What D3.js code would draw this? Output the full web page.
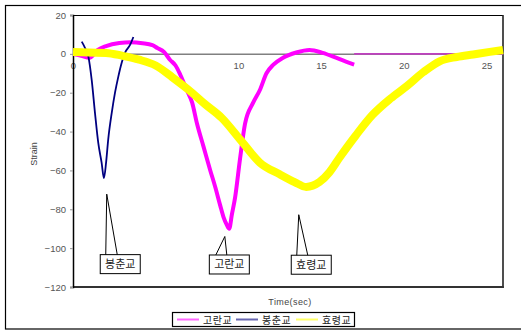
<!DOCTYPE html>
<html>
<head>
<meta charset="utf-8">
<script src="https://cdn.jsdelivr.net/npm/d3@7"></script>
<style>
  body { margin: 0; background: #fff; }
  svg { display: block; }
  text { font-family: "Liberation Sans", Arial, sans-serif; }
  .kr { font-family: "Noto Sans CJK KR", sans-serif; }
</style>
</head>
<body>
<div id="chart"></div>
<script>
// series names (legend order = drawing order)
const seriesNames = ['고란교', '봉춘교', '효령교'];

// 고란교 : time (sec), strain
const goranTime   = [0, 0.5, 1.0, 1.5, 2.0, 2.8, 3.5, 4.2, 4.8, 5.1, 5.5, 5.86, 6.2, 6.5, 6.9, 7.2, 7.5, 7.9, 8.3, 8.6, 8.9, 9.1, 9.3, 9.45, 9.6, 9.8, 10.1, 10.4, 10.9, 11.3, 11.7, 12.1, 12.7, 13.5, 14.3, 15.1, 15.9, 16.5, 17.0];
const goranStrain = [0, -1, -2, 2, 4, 5.6, 6, 5.5, 4.5, 3, 1, -3, -6, -11, -19, -25, -36, -48, -60, -68.5, -78, -84, -88, -90, -83, -74, -54, -36, -25, -18.6, -10, -5.7, -2, 0.7, 2, 0.5, -2, -4, -5.5];
// 고란교 tail (recorded as flat zero after the event)
const goranTailTime   = [17.0, 26];
const goranTailStrain = [0, 0];

// 봉춘교
const bongTime   = [0.53, 0.73, 0.93, 1.13, 1.33, 1.53, 1.73, 1.87, 2.0, 2.13, 2.34, 2.54, 2.74, 2.94, 3.14, 3.45, 3.65];
const bongStrain = [6.3, 3, -1.4, -13.4, -30.5, -46, -56, -64, -56, -44, -30.5, -20, -11.7, -4.7, 0.5, 4.6, 8.7];

// 효령교
const hyoTime   = [0, 1, 2, 3, 4, 5, 6, 7, 8, 9, 10.1, 11.3, 12.5, 13.4, 14.1, 14.9, 15.5, 16.1, 17.1, 18.1, 19.2, 20.2, 21.2, 22.2, 23.2, 24.2, 25.2, 26];
const hyoStrain = [1, 0.7, 0.5, -1, -3, -6, -12, -18.6, -26, -33, -44, -56, -62, -66, -68.5, -66, -61, -53.6, -42, -31.5, -23, -16.5, -9.3, -3.7, -1.6, -0.3, 1, 2];

const xTicks = [0, 5, 10, 15, 20, 25];
const yTicks = [20, 0, -20, -40, -60, -80, -100, -120];

// callouts: label, apex (time, strain)
const calloutLabels = ['봉춘교', '고란교', '효령교'];
const calloutTime   = [2.04, 9.18, 13.65];
const calloutStrain = [-72.2, -94, -82.8];

const W = 521, H = 330;
const plot = { left: 73, right: 503, top: 15, bottom: 287 };

const svg = d3.select('#chart').append('svg')
  .attr('width', W).attr('height', H);

// outer chart frame
svg.append('rect')
  .attr('x', 5.5).attr('y', 5.5)
  .attr('width', W + 10).attr('height', 323.5)
  .attr('fill', '#fff').attr('stroke', '#000').attr('stroke-width', 1.2);

const x = d3.scaleLinear().domain([0, 26]).range([plot.left, plot.right]);
const y = d3.scaleLinear().domain([-120, 20]).range([plot.bottom, plot.top]);

// plot area border
svg.append('line').attr('x1', plot.left).attr('x2', plot.right).attr('y1', plot.top + 0.5).attr('y2', plot.top + 0.5)
  .attr('stroke', '#000').attr('stroke-width', 1);
svg.append('line').attr('x1', plot.right).attr('x2', plot.right).attr('y1', plot.top).attr('y2', plot.bottom + 1)
  .attr('stroke', '#222').attr('stroke-width', 1.6);
svg.append('line').attr('x1', plot.left).attr('x2', plot.right + 0.8).attr('y1', plot.bottom).attr('y2', plot.bottom)
  .attr('stroke', '#333').attr('stroke-width', 2);

// zero line (x axis)
const xAxis = svg.append('g')
  .attr('transform', 'translate(0,' + y(0) + ')')
  .call(d3.axisBottom(x).tickValues(xTicks).tickSize(0).tickPadding(8));
xAxis.select('.domain').attr('stroke', '#808080').attr('stroke-width', 1.5);
xAxis.selectAll('text').attr('font-size', 9.5).attr('fill', '#555')
  .attr('font-family', '"Liberation Sans", Arial, sans-serif');

// y axis
const yAxis = svg.append('g')
  .attr('transform', 'translate(' + plot.left + ',0)')
  .call(d3.axisLeft(y).tickValues(yTicks).tickSize(3).tickPadding(4).tickFormat(d => d < 0 ? '\u2212' + Math.abs(d) : d));
yAxis.select('.domain').attr('stroke', '#000').attr('stroke-width', 1.5);
yAxis.selectAll('.tick line').attr('stroke', '#999');
yAxis.selectAll('text').attr('font-size', 9.5).attr('fill', '#555')
  .attr('font-family', '"Liberation Sans", Arial, sans-serif');

svg.append('text')
  .attr('transform', 'translate(37,' + ((plot.top + plot.bottom) / 2 + 3) + ') rotate(-90)')
  .attr('text-anchor', 'middle')
  .attr('font-size', 9).attr('fill', '#444')
  .text('Strain');

svg.append('text')
  .attr('x', (plot.left + plot.right) / 2 + 2).attr('y', 305)
  .attr('text-anchor', 'middle')
  .attr('font-size', 9).attr('fill', '#444')
  .attr('letter-spacing', 0.4)
  .text('Time(sec)');

const line = d3.line().x(d => x(d[0])).y(d => y(d[1])).curve(d3.curveMonotoneX);
const zip = (ts, vs) => ts.map((t, i) => [t, vs[i]]);

const clip = svg.append('clipPath').attr('id', 'plotclip').append('rect')
  .attr('x', plot.left).attr('y', plot.top)
  .attr('width', plot.right - plot.left + 2).attr('height', plot.bottom - plot.top);

const lines = svg.append('g').attr('clip-path', 'url(#plotclip)');

// 고란교 flat tail (thin) then event
lines.append('path')
  .datum(zip(goranTailTime, goranTailStrain))
  .attr('d', line).attr('fill', 'none')
  .attr('stroke', '#C040C0').attr('stroke-width', 1.6);

const series = [
  { name: seriesNames[0], t: goranTime, v: goranStrain, color: '#FF00FF', width: 4 },
  { name: seriesNames[1], t: bongTime, v: bongStrain, color: '#000080', width: 1.8 },
  { name: seriesNames[2], t: hyoTime, v: hyoStrain, color: '#FFFF00', width: 8 }
];
series.forEach(s => {
  lines.append('path')
    .datum(zip(s.t, s.v))
    .attr('d', line)
    .attr('fill', 'none')
    .attr('stroke', s.color)
    .attr('stroke-width', s.width)
    .attr('stroke-linejoin', 'round');
});

// callouts
const boxW = 40, boxH = 19;
const boxOffsets = [[-7, 60], [-16, 18], [-8, 40]];
const baseOffsets = [[-1, 10.5], [-9, 2], [-2, 9]];
calloutLabels.forEach((lab, i) => {
  const ax = x(calloutTime[i]), ay = y(calloutStrain[i]);
  const bx = ax + boxOffsets[i][0], by = ay + boxOffsets[i][1];
  const g = svg.append('g');
  g.append('rect')
    .attr('x', bx + 0.5).attr('y', by + 0.5)
    .attr('width', boxW).attr('height', boxH)
    .attr('fill', '#fff').attr('stroke', '#000').attr('stroke-width', 1);
  g.append('path')
    .attr('d', 'M' + (ax + baseOffsets[i][0]) + ',' + (by + 0.5) + 'L' + ax + ',' + ay + 'L' + (ax + baseOffsets[i][1]) + ',' + (by + 0.5))
    .attr('fill', 'none').attr('stroke', '#000').attr('stroke-width', 1);
  g.append('text')
    .attr('class', 'kr')
    .attr('x', bx + boxW / 2 + 0.5).attr('y', by + 14)
    .attr('text-anchor', 'middle')
    .attr('font-size', 11).attr('fill', '#222')
    .text(lab);
});

// legend
const legend = svg.append('g');
legend.append('rect')
  .attr('x', 172.5).attr('y', 312.5).attr('width', 182).attr('height', 14)
  .attr('fill', '#fff').attr('stroke', '#000').attr('stroke-width', 1.2);
const legendColors = ['#FF66FF', '#6666B0', '#FFFF66'];
const legendX = [177, 236, 296];
seriesNames.forEach((n, i) => {
  legend.append('line')
    .attr('x1', legendX[i]).attr('x2', legendX[i] + 22)
    .attr('y1', 319.5).attr('y2', 319.5)
    .attr('stroke', legendColors[i]).attr('stroke-width', 2);
  legend.append('text')
    .attr('class', 'kr')
    .attr('x', legendX[i] + 26).attr('y', 323.5)
    .attr('font-size', 10).attr('fill', '#222')
    .attr('letter-spacing', 0.5)
    .text(n);
});
</script>
</body>
</html>
